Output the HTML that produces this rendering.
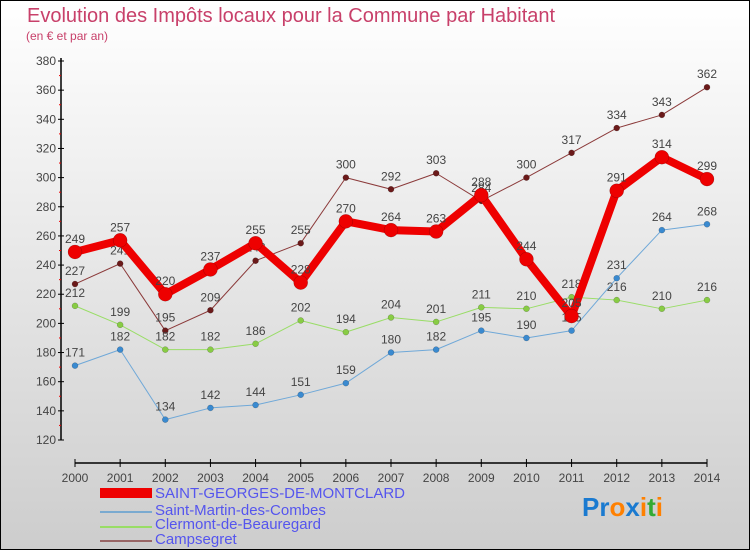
<!DOCTYPE html>
<html><head><meta charset="utf-8"><style>
body{margin:0;}
#wrap{width:750px;height:550px;position:relative;overflow:hidden;font-family:"Liberation Sans",sans-serif;}
svg text{font-family:"Liberation Sans",sans-serif;}
</style></head><body>
<div id="wrap">
<svg id="chart" width="750" height="550" viewBox="0 0 750 550">
<defs><linearGradient id="bg" x1="0" y1="0" x2="0" y2="1"><stop offset="0" stop-color="#ffffff"/><stop offset="1" stop-color="#cdcdcd"/></linearGradient></defs>
<rect x="0.5" y="0.5" width="749" height="549" fill="url(#bg)" stroke="#000"/>
<text x="27" y="22" font-size="20" fill="#c8406a">Evolution des Impôts locaux pour la Commune par Habitant</text>
<text x="26" y="40" font-size="12" fill="#c8406a">(en € et par an)</text>
<g id="axes"></g><g id="series"></g>
<g>
<rect x="100" y="488" width="52" height="10" fill="#e00"/>
<text x="155" y="498" font-size="15" fill="#5555ee">SAINT-GEORGES-DE-MONTCLARD</text>
<rect x="100" y="511" width="52" height="2" fill="#7aaad0"/>
<text x="155" y="515" font-size="15" fill="#5555ee">Saint-Martin-des-Combes</text>
<rect x="100" y="526" width="52" height="2" fill="#99dd66"/>
<text x="155" y="529" font-size="15" fill="#5555ee">Clermont-de-Beauregard</text>
<rect x="100" y="540" width="52" height="2" fill="#996666"/>
<text x="155" y="544" font-size="15" fill="#5555ee">Campsegret</text>
</g>
<text x="582" y="516" font-size="26" font-weight="bold"><tspan fill="#1a7ad0">Pr</tspan><tspan fill="#ff8000">o</tspan><tspan fill="#1a7ad0">x</tspan><tspan fill="#ff8000">i</tspan><tspan fill="#33aa33">t</tspan><tspan fill="#ff8000">i</tspan></text>
</svg></div>
<script>
const years=["2000","2001","2002","2003","2004","2005","2006","2007","2008","2009","2010","2011","2012","2013","2014"];
const yTicks=[120,140,160,180,200,220,240,260,280,300,320,340,360,380];
const stGeorges=[249,257,220,237,255,228,270,264,263,288,244,205,291,314,299];
const stMartin=[171,182,134,142,144,151,159,180,182,195,190,195,231,264,268];
const clermont=[212,199,182,182,186,202,194,204,201,211,210,218,216,210,216];
const campsegret=[227,241,195,209,243,255,300,292,303,284,300,317,334,343,362];
const NS="http://www.w3.org/2000/svg";
function xs(i){return 75+i*(707-75)/(years.length-1);}
function ys(v){return 440-(v-120)*(440-61)/(380-120);}
function mk(tag,attrs,parent){const e=document.createElementNS(NS,tag);for(const k in attrs)e.setAttribute(k,attrs[k]);parent.appendChild(e);return e;}
const ax=document.getElementById('axes');
let l=mk('line',{x1:61,y1:58,x2:61,y2:440,stroke:'#000','stroke-width':1.5},ax);


yTicks.forEach((v,i)=>{
 mk('line',{x1:58,x2:64,y1:ys(v),y2:ys(v),stroke:'#000'},ax);
 if(i<yTicks.length-1) mk('line',{x1:59,x2:61,y1:ys(v+10),y2:ys(v+10),stroke:'#e00'},ax);
 const t=mk('text',{x:56,y:ys(v)+4,'font-size':12,fill:'#444','text-anchor':'end'},ax);t.textContent=v;
 
 
});
l=mk('line',{x1:75,y1:463,x2:707,y2:463,stroke:'#000','stroke-width':1.5},ax);


years.forEach((y,i)=>{
 mk('line',{x1:xs(i),x2:xs(i),y1:459,y2:467,stroke:'#000'},ax);
 const t=mk('text',{x:xs(i),y:482,'font-size':12,fill:'#444','text-anchor':'middle'},ax);t.textContent=y;
 
 
});
const sg=document.getElementById('series');
function draw(data,color,w,r,dot,name){
 const g=mk('g',{},sg);
 
 
 const p=mk('polyline',{points:data.map((v,i)=>xs(i)+','+ys(v)).join(' '),fill:'none',stroke:color,'stroke-width':w,'stroke-linejoin':'round'},g);
 
 
 data.forEach((v,i)=>{
  const c=mk('circle',{cx:xs(i),cy:ys(v),r:r,fill:dot,stroke:'rgba(0,0,0,0.3)','stroke-width':0.5},g);
  
  
  const t=mk('text',{x:xs(i),y:ys(v)-9,'font-size':12,fill:'#444','text-anchor':'middle'},g);t.textContent=v;
  
  
 });
}
draw(campsegret,'#8b3a3a',1,3,'#6b1a1a','campsegret');
draw(clermont,'#99dd66',1,3,'#88cc44','clermont');
draw(stMartin,'#6fa8d8',1,3,'#3a8ad0','saint-martin');
draw(stGeorges,'#ee0000',8,7,'#ee0000','saint-georges');
</script>
</body></html>
